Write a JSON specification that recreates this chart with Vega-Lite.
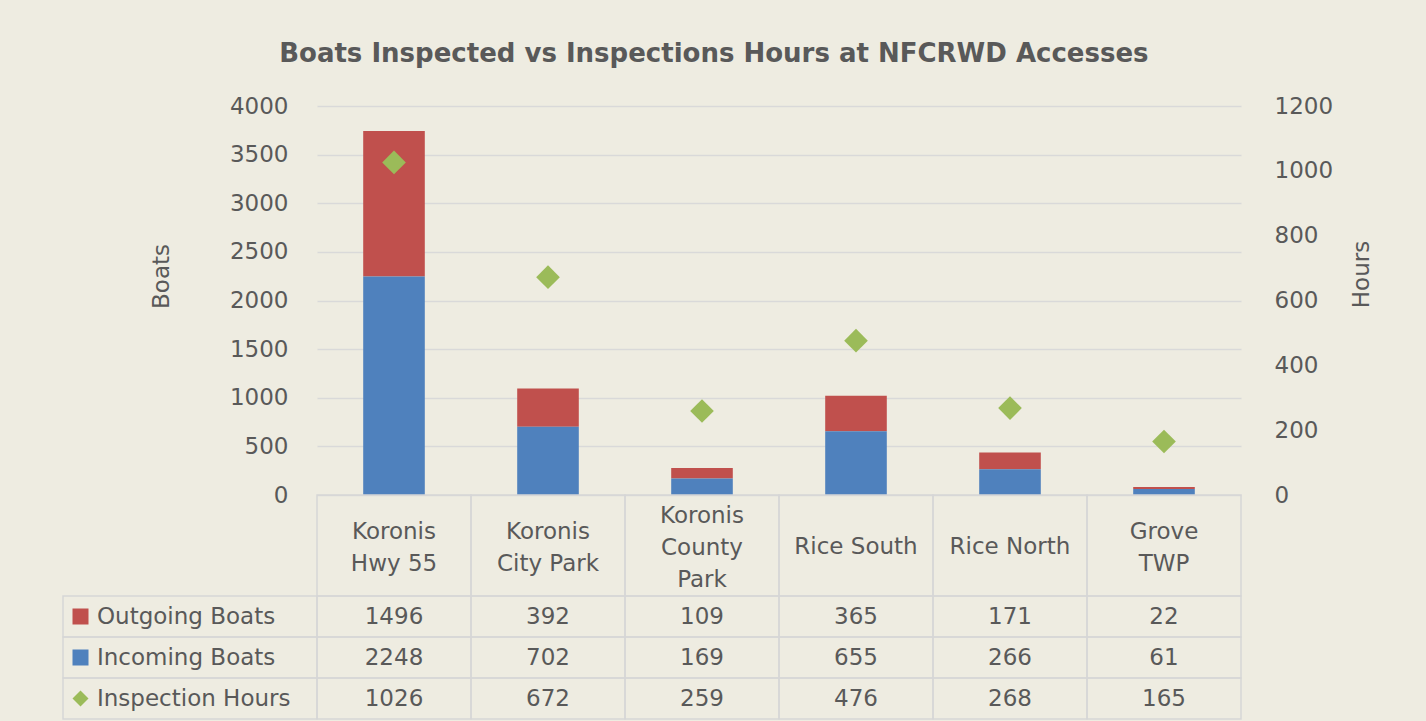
{
  "$schema": "https://vega.github.io/schema/vega-lite/v6.json",
  "background": "#EEECE1",
  "padding": {"left": 62, "top": 41, "right": 54, "bottom": 4},
  "autosize": {"type": "pad"},
  "title": {
    "text": "Boats Inspected vs Inspections Hours at NFCRWD Accesses",
    "font": "DejaVu Sans",
    "fontSize": 26,
    "fontWeight": "bold",
    "color": "#595959",
    "anchor": "middle",
    "offset": 28,
    "dx": -4
  },
  "config": {
    "view": {"stroke": null},
    "font": "DejaVu Sans"
  },
  "datasets": {
    "sites": [
      {"site": "Koronis Hwy 55", "label": "Koronis\nHwy 55", "Outgoing Boats": 1496, "Incoming Boats": 2248, "Inspection Hours": 1026},
      {"site": "Koronis City Park", "label": "Koronis\nCity Park", "Outgoing Boats": 392, "Incoming Boats": 702, "Inspection Hours": 672},
      {"site": "Koronis County Park", "label": "Koronis\nCounty\nPark", "Outgoing Boats": 109, "Incoming Boats": 169, "Inspection Hours": 259},
      {"site": "Rice South", "label": "Rice South", "Outgoing Boats": 365, "Incoming Boats": 655, "Inspection Hours": 476},
      {"site": "Rice North", "label": "Rice North", "Outgoing Boats": 171, "Incoming Boats": 266, "Inspection Hours": 268},
      {"site": "Grove TWP", "label": "Grove\nTWP", "Outgoing Boats": 22, "Incoming Boats": 61, "Inspection Hours": 165}
    ]
  },
  "columns": 2,
  "spacing": 0,
  "bounds": "flush",
  "align": "each",
  "resolve": {"scale": {"color": "independent"}},
  "concat": [
    {"width": 254, "height": 389, "data": {"values": []}, "mark": "point", "encoding": {}},
    {
      "width": 924,
      "height": 389,
      "data": {"name": "sites"},
      "layer": [
        {
          "transform": [{"fold": ["Outgoing Boats", "Incoming Boats"], "as": ["series", "value"]}],
          "mark": {"type": "bar"},
          "encoding": {
            "x": {"field": "site", "type": "nominal", "sort": null, "scale": {"paddingInner": 0.6, "paddingOuter": 0.3}, "axis": null},
            "y": {
              "field": "value", "type": "quantitative", "stack": "zero",
              "scale": {"domain": [0, 4000], "nice": false},
              "axis": {
                "orient": "left",
                "values": [0, 500, 1000, 1500, 2000, 2500, 3000, 3500, 4000],
                "format": "d",
                "grid": true, "gridColor": "#D9D9D9", "gridWidth": 1.5,
                "domain": false, "ticks": false,
                "labelFont": "DejaVu Sans", "labelFontSize": 23, "labelColor": "#595959", "labelPadding": 29,
                "title": "Boats", "titleFont": "DejaVu Sans", "titleFontSize": 23, "titleFontWeight": "normal",
                "titleColor": "#595959", "titlePadding": 56, "titleY": 170
              }
            },
            "color": {"field": "series", "type": "nominal", "scale": {"domain": ["Outgoing Boats", "Incoming Boats"], "range": ["#C0504D", "#4F81BD"]}, "legend": null},
            "order": {"field": "series", "sort": "ascending"}
          }
        },
        {
          "mark": {"type": "point", "shape": "diamond", "filled": true, "size": 560, "color": "#9BBB59", "opacity": 1},
          "encoding": {
            "x": {"field": "site", "type": "nominal", "sort": null},
            "y": {
              "field": "Inspection Hours", "type": "quantitative",
              "scale": {"domain": [0, 1200], "nice": false},
              "axis": {
                "orient": "right",
                "values": [0, 200, 400, 600, 800, 1000, 1200],
                "format": "d",
                "grid": false, "domain": false, "ticks": false,
                "labelFont": "DejaVu Sans", "labelFontSize": 23, "labelColor": "#595959", "labelPadding": 33,
                "title": "Hours", "titleFont": "DejaVu Sans", "titleFontSize": 23, "titleFontWeight": "normal",
                "titleColor": "#595959", "titlePadding": 18, "titleAngle": 270, "titleBaseline": "top", "titleY": 168
              }
            }
          }
        }
      ],
      "resolve": {"scale": {"y": "independent"}}
    },
    {"width": 254, "height": 101, "data": {"values": []}, "mark": "point", "encoding": {}},
    {
      "width": 924,
      "height": 101,
      "data": {"name": "sites"},
      "encoding": {
        "x": {"field": "site", "type": "nominal", "sort": null, "scale": {"paddingInner": 0, "paddingOuter": 0}, "axis": null}
      },
      "layer": [
        {"mark": {"type": "rect", "fillOpacity": 0, "stroke": "#D6D6D6", "strokeWidth": 1.5}},
        {
          "mark": {
            "type": "text", "lineBreak": "\n", "lineHeight": 32, "font": "DejaVu Sans", "fontSize": 23, "color": "#595959",
            "dy": {"expr": "1.5 - (length(split(datum.label, '\\n')) - 1) * 15.5"}
          },
          "encoding": {"text": {"field": "label", "type": "nominal"}}
        }
      ]
    },
    {
      "width": 254,
      "height": 123,
      "data": {"name": "sites"},
      "transform": [
        {"fold": ["Outgoing Boats", "Incoming Boats", "Inspection Hours"], "as": ["series", "value"]},
        {"aggregate": [], "groupby": ["series"]}
      ],
      "encoding": {
        "y": {"field": "series", "type": "nominal", "scale": {"domain": ["Outgoing Boats", "Incoming Boats", "Inspection Hours"], "paddingInner": 0, "paddingOuter": 0}, "axis": null}
      },
      "layer": [
        {"mark": {"type": "rect", "fillOpacity": 0, "stroke": "#D6D6D6", "strokeWidth": 1.5}},
        {
          "mark": {"type": "point", "filled": true, "opacity": 0},
          "encoding": {
            "color": {
              "field": "series", "type": "nominal",
              "scale": {"domain": ["Outgoing Boats", "Incoming Boats", "Inspection Hours"], "range": ["#C0504D", "#4F81BD", "#9BBB59"]},
              "legend": null
            },
            "shape": {
              "field": "series", "type": "nominal",
              "scale": {"domain": ["Outgoing Boats", "Incoming Boats", "Inspection Hours"], "range": ["square", "square", "diamond"]},
              "legend": {
                "title": null, "orient": "none", "legendX": 6, "legendY": 499, "padding": 0,
                "symbolSize": 256, "symbolStrokeWidth": 0, "symbolOpacity": 1,
                "symbolFillColor": {"expr": "datum.value === 'Outgoing Boats' ? '#C0504D' : (datum.value === 'Incoming Boats' ? '#4F81BD' : '#9BBB59')"},
                "labelFont": "DejaVu Sans", "labelFontSize": 23, "labelColor": "#595959", "labelOffset": 5, "labelLimit": 300,
                "rowPadding": 17
              }
            }
          }
        }
      ]
    },
    {
      "width": 924,
      "height": 123,
      "data": {"name": "sites"},
      "transform": [{"fold": ["Outgoing Boats", "Incoming Boats", "Inspection Hours"], "as": ["series", "value"]}],
      "encoding": {
        "x": {"field": "site", "type": "nominal", "sort": null, "scale": {"paddingInner": 0, "paddingOuter": 0}, "axis": null},
        "y": {"field": "series", "type": "nominal", "scale": {"domain": ["Outgoing Boats", "Incoming Boats", "Inspection Hours"], "paddingInner": 0, "paddingOuter": 0}, "axis": null}
      },
      "layer": [
        {"mark": {"type": "rect", "fillOpacity": 0, "stroke": "#D6D6D6", "strokeWidth": 1.5}},
        {
          "mark": {"type": "text", "font": "DejaVu Sans", "fontSize": 23, "color": "#595959"},
          "encoding": {"text": {"field": "value", "type": "quantitative", "format": "d"}}
        }
      ]
    }
  ]
}
